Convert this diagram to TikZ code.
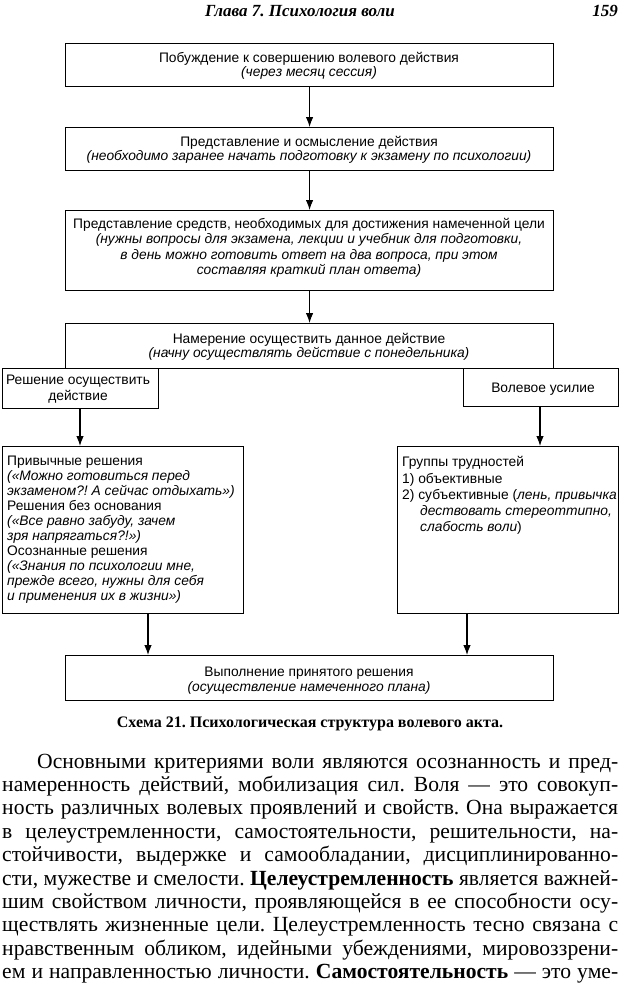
\documentclass[tikz,border=0pt]{standalone}
\usepackage{fontspec}
\setmainfont{Liberation Serif}
\setsansfont{Liberation Sans}
\usetikzlibrary{arrows.meta}
\frenchspacing
\begin{document}
\begin{tikzpicture}[x=1pt,y=-1pt,
  box/.style={draw, line width=1.1pt, inner sep=0pt, anchor=north west},
  dt/.style={font=\sffamily\fontsize{13.8}{15}\selectfont, inner sep=0pt, anchor=base},
  dtl/.style={dt, anchor=base west},
  arr/.style={line width=1.1pt, -{Latex[length=10pt,width=7.5pt]}},
  body/.style={font=\frenchspacing\fontsize{21.6}{23.4}\selectfont, inner sep=0pt, anchor=base west},
  hdr/.style={font=\bfseries\itshape\fontsize{17}{19}\selectfont, inner sep=0pt},
]
\useasboundingbox (0,0) rectangle (620,989);

% header
\node[hdr, anchor=base] (hd) at (300,16) {Глава 7. Психология воли};
\node[hdr, anchor=base east] (pg) at (618,16) {159};

% boxes
\node[box, minimum width=488pt, minimum height=43pt] (b1) at (65,43) {};
\node[box, minimum width=488pt, minimum height=43pt] (b2) at (65,127) {};
\node[box, minimum width=488pt, minimum height=80pt] (b3) at (65,210) {};
\node[box, minimum width=488pt, minimum height=45pt] (b4) at (65,323) {};
\node[box, minimum width=156pt, minimum height=40pt] (ls) at (2,368) {};
\node[box, minimum width=155pt, minimum height=38pt] (rs) at (463,368) {};
\node[box, minimum width=241pt, minimum height=167pt] (lb) at (2,446) {};
\node[box, minimum width=221pt, minimum height=167pt] (rb) at (397,446) {};
\node[box, minimum width=488pt, minimum height=45pt] (b5) at (65,655) {};

% box texts
\node[dt] (t1a) at (309,62.5) {Побуждение к совершению волевого действия};
\node[dt] (t1b) at (309,76.5) {\itshape (через месяц сессия)};

\node[dt] (t2a) at (309,146.5) {Представление и осмысление действия};
\node[dt] (t2b) at (309,160.5) {\itshape (необходимо заранее начать подготовку к экзамену по психологии)};

\node[dt] (t3a) at (309,228) {Представление средств, необходимых для достижения намеченной цели};
\node[dt] (t3b) at (309,243.5) {\itshape (нужны вопросы для экзамена, лекции и учебник для подготовки,};
\node[dt] (t3c) at (309,259) {\itshape в день можно готовить ответ на два вопроса, при этом};
\node[dt] (t3d) at (309,274.5) {\itshape составляя краткий план ответа)};

\node[dt] (t4a) at (309,343) {Намерение осуществить данное действие};
\node[dt] (t4b) at (309,357.5) {\itshape (начну осуществлять действие с понедельника)};

\node[dt] (tla) at (78,384.5) {Решение осуществить};
\node[dt] (tlb) at (78,400) {действие};

\node[dt] (tr) at (543,392) {Волевое усилие};

\node[dtl] (l1) at (7,465.5) {Привычные решения};
\node[dtl] (l2) at (7,480.5) {\itshape («Можно готовиться перед};
\node[dtl] (l3) at (7,495.5) {\itshape экзаменом?! А сейчас отдыхать»)};
\node[dtl] (l4) at (7,510.5) {Решения без основания};
\node[dtl] (l5) at (7,525.5) {\itshape («Все равно забуду, зачем};
\node[dtl] (l6) at (7,540.5) {\itshape зря напрягаться?!»)};
\node[dtl] (l7) at (7,555.5) {Осознанные решения};
\node[dtl] (l8) at (7,570.5) {\itshape («Знания по психологии мне,};
\node[dtl] (l9) at (7,585.5) {\itshape прежде всего, нужны для себя};
\node[dtl] (l10) at (7,600.5) {\itshape и применения их в жизни»)};

\node[dtl] (r1) at (402,466) {Группы трудностей};
\node[dtl] (r2) at (402,483) {1) объективные};
\node[dtl] (r3) at (402,499) {2) субъективные (\textit{лень, привычка}};
\node[dtl] (r4) at (420,515) {\itshape дествовать стереоттипно,};
\node[dtl] (r5) at (420,531) {\textit{слабость воли})};

\node[dt] (t5a) at (309,676.5) {Выполнение принятого решения};
\node[dt] (t5b) at (309,691) {\itshape (осуществление намеченного плана)};

% connectors
\draw[arr] (b1.south) -- (b2.north);
\draw[arr] (b2.south) -- (b3.north);
\draw[arr] (b3.south) -- (b4.north);
\coordinate (lsd) at (80,408);
\coordinate (rsd) at (540,406);
\draw[arr] (lsd) -- (lsd |- lb.north);
\draw[arr] (rsd) -- (rsd |- rb.north);
\coordinate (lbd) at (148,613);
\coordinate (rbd) at (467,613);
\draw[arr] (lbd) -- (lbd |- b5.north);
\draw[arr] (rbd) -- (rbd |- b5.north);

% caption
\node[font=\bfseries\fontsize{16}{18}\selectfont, inner sep=0pt, anchor=base] (cap) at (310,727) {Схема 21. Психологическая структура волевого акта.};

% body text
\node[body] (p1) at (37,768) {\makebox[581pt][s]{Основными критериями воли являются осознанность и пред-}};
\node[body] (p2) at (2,791.4) {\makebox[616pt][s]{намеренность действий, мобилизация сил. Воля — это совокуп-}};
\node[body] (p3) at (2,814.8) {\makebox[616pt][s]{ность различных волевых проявлений и свойств. Она выражается}};
\node[body] (p4) at (2,838.2) {\makebox[616pt][s]{в целеустремленности, самостоятельности, решительности, на-}};
\node[body] (p5) at (2,861.6) {\makebox[616pt][s]{стойчивости, выдержке и самообладании, дисциплинированно-}};
\node[body] (p6) at (2,885) {\makebox[616pt][s]{сти, мужестве и смелости. \textbf{Целеустремленность} является важней-}};
\node[body] (p7) at (2,908.4) {\makebox[616pt][s]{шим свойством личности, проявляющейся в ее способности осу-}};
\node[body] (p8) at (2,931.8) {\makebox[616pt][s]{ществлять жизненные цели. Целеустремленность тесно связана с}};
\node[body] (p9) at (2,955.2) {\makebox[616pt][s]{нравственным обликом, идейными убеждениями, мировоззрени-}};
\node[body] (p10) at (2,978.6) {\makebox[616pt][s]{ем и направленностью личности. \textbf{Самостоятельность} — это уме-}};
\end{tikzpicture}
\end{document}
